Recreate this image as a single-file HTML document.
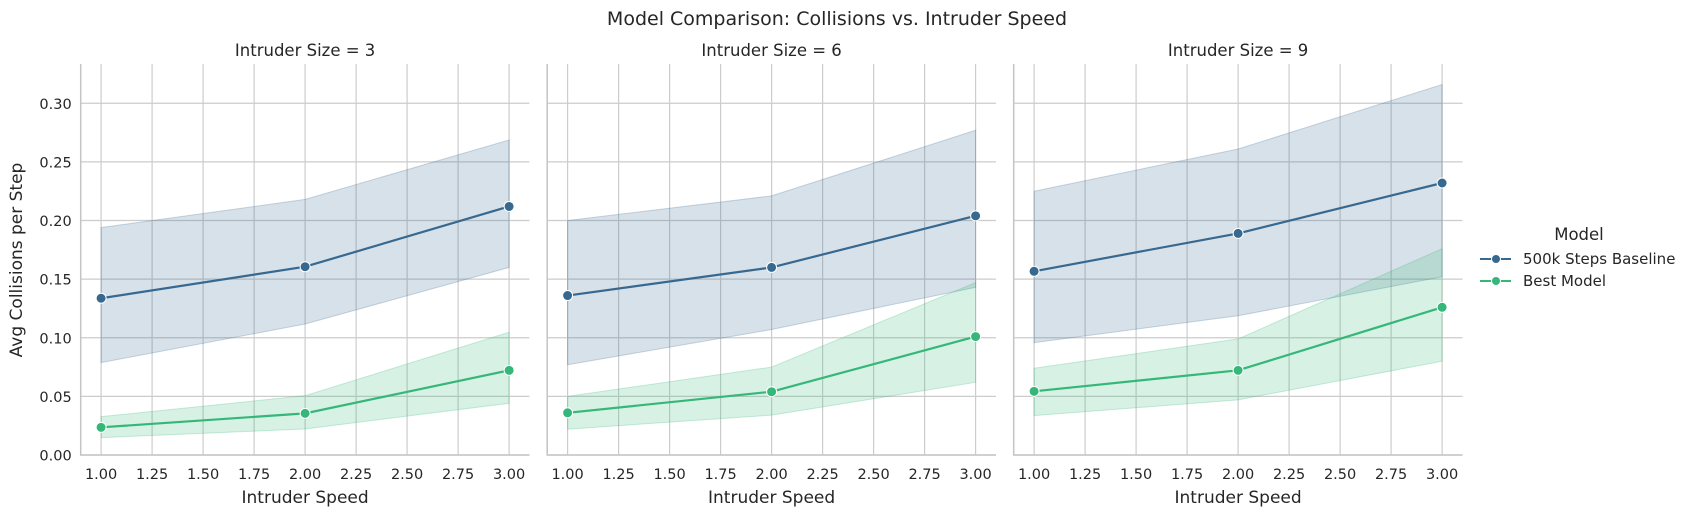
<!DOCTYPE html>
<html><head><meta charset="utf-8"><style>
body{margin:0;background:#fff;}
svg text{font-family:"DejaVu Sans","Liberation Sans",sans-serif;fill:#262626;}
</style></head><body>
<svg id="chart" width="1692" height="517" xmlns="http://www.w3.org/2000/svg">
<text x="837" y="25" font-size="19" text-anchor="middle">Model Comparison: Collisions vs. Intruder Speed</text>
<text transform="translate(22,260) rotate(-90)" font-size="17" text-anchor="middle">Avg Collisions per Step</text>
<g id="panels"></g>
<g>
<text x="1579" y="240" font-size="16.5" text-anchor="middle">Model</text>
<g><line x1="1480" y1="259" x2="1511" y2="259" stroke="#37688f" stroke-width="2"/><circle cx="1496" cy="259" r="4.5" fill="#37688f" stroke="#fff"/><text x="1523" y="264" font-size="15">500k Steps Baseline</text></g>
<g><line x1="1480" y1="281" x2="1511" y2="281" stroke="#35b779" stroke-width="2"/><circle cx="1496" cy="281" r="4.5" fill="#35b779" stroke="#fff"/><text x="1523" y="286" font-size="15">Best Model</text></g>
</g>
</svg>
<script>
const speeds=[1,2,3];
const sizes=[3,6,9];
const xTicks=[1.0,1.25,1.5,1.75,2.0,2.25,2.5,2.75,3.0];
const yTicks=[0,0.05,0.10,0.15,0.20,0.25,0.30];
const baseMean=[[0.1337,0.1606,0.212],[0.136,0.160,0.204],[0.1567,0.189,0.232]];
const baseHi=[[0.194,0.218,0.2687],[0.200,0.221,0.277],[0.225,0.261,0.316]];
const baseLo=[[0.0788,0.1117,0.160],[0.077,0.107,0.143],[0.0958,0.1188,0.152]];
const bestMean=[[0.0236,0.0355,0.0722],[0.036,0.054,0.101],[0.0543,0.0722,0.126]];
const bestHi=[[0.0327,0.0506,0.1047],[0.050,0.075,0.147],[0.074,0.099,0.176]];
const bestLo=[[0.0148,0.0222,0.0441],[0.022,0.034,0.062],[0.0336,0.047,0.080]];

const NS="http://www.w3.org/2000/svg";
const panelsG=document.getElementById('panels');
const left0=80.7,stepX=466.5,pw=448.8,topY=64,botY=455;
const xmin=0.9,xmax=3.1,ymin=0,ymax=0.3335;
function mk(t,a,p){const e=document.createElementNS(NS,t);for(const k in a)e.setAttribute(k,a[k]);(p||panelsG).appendChild(e);return e;}
sizes.forEach((s,i)=>{
  const L=left0+i*stepX;
  const X=v=>L+(v-xmin)/(xmax-xmin)*pw;
  const Y=v=>botY-(v-ymin)/(ymax-ymin)*(botY-topY);
  const pg=mk('g',{});
  
  
  yTicks.forEach(t=>{
    const l=mk('line',{x1:L,x2:L+pw,y1:Y(t),y2:Y(t),stroke:'#cccccc','stroke-width':1.2},pg);
    
    
    if(i===0){const tx=mk('text',{x:L-9,y:Y(t)+5.5,'font-size':14.5,'text-anchor':'end'},pg);tx.textContent=t.toFixed(2);
      
      }
  });
  xTicks.forEach(t=>{
    const l=mk('line',{x1:X(t),x2:X(t),y1:topY,y2:botY,stroke:'#cccccc','stroke-width':1.2},pg);
    
    
    const tx=mk('text',{x:X(t),y:botY+24,'font-size':14.5,'text-anchor':'middle'},pg);tx.textContent=t.toFixed(2);
    
    
  });
  const ax=mk('path',{d:`M${L},${topY}V${botY}H${L+pw}`,fill:'none',stroke:'#c4c4c4','stroke-width':1.5},pg);
  
  
  const st=mk('text',{x:L+pw/2,y:56,'font-size':16.5,'text-anchor':'middle'},pg);st.textContent='Intruder Size = '+s;
  
  
  const xl=mk('text',{x:L+pw/2,y:503,'font-size':17,'text-anchor':'middle'},pg);xl.textContent='Intruder Speed';
  
  
  [[baseMean,baseHi,baseLo,'#37688f','baseline'],[bestMean,bestHi,bestLo,'#35b779','best-model']].forEach(([m,h,lo,c,n])=>{
    let d='M'+speeds.map((x,j)=>X(x)+','+Y(h[i][j])).join('L')+'L'+speeds.slice().reverse().map((x,j)=>X(x)+','+Y(lo[i][2-j])).join('L')+'Z';
    const band=mk('path',{d:d,fill:c,'fill-opacity':0.2,stroke:c,'stroke-opacity':0.25},pg);
    
    
    const line=mk('polyline',{points:speeds.map((x,j)=>X(x)+','+Y(m[i][j])).join(' '),fill:'none',stroke:c,'stroke-width':2.2},pg);
    
    
    speeds.forEach((x,j)=>{
      const p=mk('circle',{cx:X(x),cy:Y(m[i][j]),r:5,fill:c,stroke:'#fff','stroke-width':1},pg);
      
      
    });
  });
});
</script>
</body></html>
